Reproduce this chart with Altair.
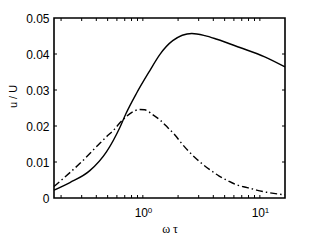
import altair as alt
import pandas as pd

# solid curve (omega*tau, u/U)
solid_x = [0.174, 0.238, 0.352, 0.490, 0.636, 0.716, 0.883, 1.148, 1.40, 1.80, 2.62, 3.39, 4.29, 6.75, 11.0, 16.4]
solid_y = [0.0022, 0.0043, 0.0076, 0.0129, 0.0196, 0.0234, 0.0291, 0.0354, 0.0399, 0.0437, 0.0457, 0.0451, 0.0441, 0.0418, 0.0392, 0.0364]

# dash-dot curve
dash_x = [0.174, 0.307, 0.429, 0.481, 0.576, 0.626, 0.726, 0.826, 0.94, 1.04, 1.22, 1.42, 1.65, 1.88, 2.14, 2.44, 2.80,
          3.24, 3.76, 4.49, 5.33, 6.40, 7.80, 9.37, 11.4, 14.3, 16.4]
dash_y = [0.0032, 0.0104, 0.0152, 0.0168, 0.0192, 0.0206, 0.0227, 0.0240, 0.0246, 0.0245, 0.0231, 0.0215, 0.0194, 0.0175,
          0.0152, 0.0131, 0.0112, 0.0094, 0.0078, 0.0061, 0.0048, 0.0036, 0.0029, 0.0022, 0.0016, 0.0011, 0.0009]

x_major = [1, 10]
x_major_base = ["10", "10"]
x_major_exp = ["0", "1"]
x_minor = [0.2, 0.3, 0.4, 0.5, 0.6, 0.7, 0.8, 0.9, 2, 3, 4, 5, 6, 7, 8, 9]
y_ticks = [0, 0.01, 0.02, 0.03, 0.04, 0.05]

W, H = 231, 180
TL = 3
FONT = "Liberation Sans"

xs = alt.Scale(type="log", domain=[0.174, 16.4], nice=False)
ys = alt.Scale(domain=[0, 0.05], nice=False)

solid_df = pd.DataFrame({"x": solid_x, "y": solid_y})
dash_df = pd.DataFrame({"x": dash_x, "y": dash_y})
xt_df = pd.DataFrame({"x": x_major + x_minor})
yt_df = pd.DataFrame({"y": y_ticks[1:-1]})
sup_df = pd.DataFrame({"x": x_major, "t": x_major_exp})

x_axis = alt.Axis(values=x_major, labelExpr="'10'", tickSize=0, domain=False, grid=False,
                  labelFont=FONT, labelFontSize=12, labelColor="black", labelPadding=9,
                  labelFlush=False, labelOverlap=False, labelOffset=-2,
                  title="ω τ", titleFont="Liberation Serif", titleFontSize=12,
                  titleFontWeight="normal", titleColor="black", titleBaseline="alphabetic", titleY=34)
y_axis = alt.Axis(values=y_ticks, format=".2~f", tickSize=0, domain=False, grid=False,
                  labelFont=FONT, labelFontSize=12, labelColor="black", labelPadding=5,
                  labelFlush=False, labelOverlap=False,
                  title="u / U", titleFont=FONT, titleFontSize=11, titleFontWeight="normal",
                  titleColor="black", titleBaseline="middle", titleX=-41, titleY=78)

X = lambda: alt.X("x:Q", scale=xs, axis=x_axis)
Y = lambda: alt.Y("y:Q", scale=ys, axis=y_axis)

solid = alt.Chart(solid_df).mark_line(color="black", strokeWidth=1.4, interpolate="monotone").encode(
    x=X(), y=Y())
dash = alt.Chart(dash_df).mark_line(color="black", strokeWidth=1.4, interpolate="monotone",
                                    strokeDash=[7, 3, 1.5, 3]).encode(x=X(), y=Y())

tb = alt.Chart(xt_df).mark_rule(color="black", strokeWidth=1).encode(
    x=X(), y=alt.value(H), y2=alt.value(H - TL))
tt = alt.Chart(xt_df).mark_rule(color="black", strokeWidth=1).encode(
    x=X(), y=alt.value(0), y2=alt.value(TL))
tl = alt.Chart(yt_df).mark_rule(color="black", strokeWidth=1).encode(
    y=Y(), x=alt.value(0), x2=alt.value(TL))
tr = alt.Chart(yt_df).mark_rule(color="black", strokeWidth=1).encode(
    y=Y(), x=alt.value(W), x2=alt.value(W - TL))

sup = alt.Chart(sup_df).mark_text(font=FONT, fontSize=8, align="left", baseline="alphabetic",
                                  dx=5, color="black").encode(
    x=X(), y=alt.value(H + 15), text="t:N")

chart = alt.layer(solid, dash, tb, tt, tl, tr, sup).properties(
    width=W, height=H,
    background="white",
    autosize=alt.AutoSizeParams(type="none"),
    padding={"left": 46, "top": 10, "right": 23, "bottom": 36},
).configure_view(stroke="black", strokeWidth=1.6)

chart.save("out.html", embed_options={"renderer": "svg", "actions": False})
